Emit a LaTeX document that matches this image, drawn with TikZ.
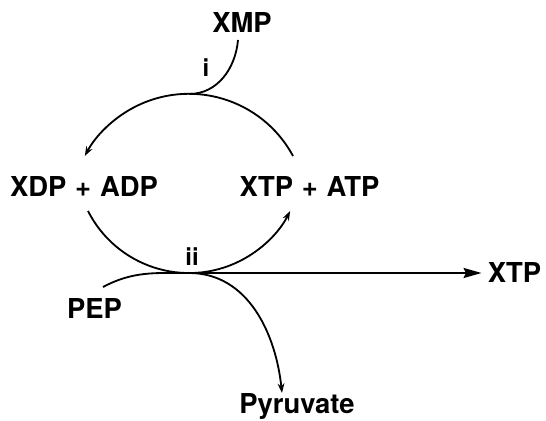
\documentclass[tikz,border=0pt]{standalone}
\usepackage{fontspec}
\setmainfont{TeX Gyre Heros}
\usetikzlibrary{arrows.meta}

\begin{document}
\begin{tikzpicture}[x=0.025cm,y=0.025cm,
    met/.style={font=\fontsize{19.5}{22}\selectfont\bfseries,inner sep=0pt},
    enz/.style={font=\fontsize{17}{20}\selectfont\bfseries,inner sep=0pt},
    ln/.style={line width=1.3pt},
    arr/.style={-{Stealth[length=2.4mm,width=1.7mm]},line width=1.3pt},
    bigarr/.style={-{Stealth[length=4.5mm,width=2.5mm,inset=0.6mm]},line width=1.3pt},
]
\useasboundingbox (0,0) rectangle (546,421);
% Metabolites
\node[met] (xmp) at (242,398) {XMP};
\node[met] (xdp) at (84,234.5) {XDP\hspace{0.32em}+\hspace{0.32em}ADP};
\node[met] (xtp) at (309.5,234.5) {XTP\hspace{0.32em}+\hspace{0.32em}ATP};
\node[met] (out) at (514.5,148) {XTP};
\node[met] (pep) at (94.5,112) {PEP};
\node[met] (pyr) at (297,14) {Pyruvate};
% Enzymes
\node[enz] (e1) at (206,353) {i};
\node[enz] (e2) at (192,164) {ii};

% Junctions and free ends
\coordinate (top) at (189,327);
\coordinate (bot) at (189,148);
\coordinate (topR) at (293,265);
\coordinate (botL) at (88,210);
\coordinate (xmpEnd) at (238,381);
\coordinate (pepEnd) at (103,134);
\coordinate (pyrEnd) at (282,28);

% Cycle
\draw[arr] (topR) arc[start angle=28.3,end angle=151.7,radius=2.955cm];
\draw[arr] (botL) arc[start angle=206.9,end angle=333.1,radius=2.8325cm];

% Arrows
\draw[ln] (xmpEnd) to[out=-95,in=0] (top);
\draw[ln] (pepEnd) to[out=28,in=180] (bot);
\draw[arr] (bot) to[out=0,in=96] (pyrEnd);
\draw[bigarr,shorten >=1.5mm] (bot) -- (out);
\end{tikzpicture}
\end{document}
